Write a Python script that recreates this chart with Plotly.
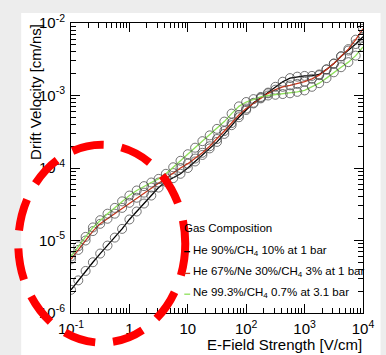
import numpy as np
import plotly.graph_objects as go

# E-field sampling: 8 points per decade from 0.1 to 10^4 V/cm
log_field = [-1 + k * 0.125 for k in range(41)]
e_field = [10 ** v for v in log_field]

# log10 of drift velocity [cm/ns] for each gas mixture
log_v_he_ch4 = [
    -5.68, -5.55, -5.42, -5.30, -5.18, -5.07, -4.96, -4.84, -4.71, -4.60,
    -4.49, -4.38, -4.27, -4.19, -4.14, -4.08, -4.00, -3.91, -3.82, -3.73,
    -3.64, -3.53, -3.41, -3.30, -3.20, -3.10, -3.03, -2.96, -2.88, -2.81,
    -2.76, -2.74, -2.73, -2.73, -2.71, -2.64, -2.56, -2.46, -2.38, -2.29,
    -2.19,
]
log_v_he_ne_ch4 = [
    -5.26, -5.13, -5.00, -4.87, -4.77, -4.70, -4.63, -4.55, -4.48, -4.41,
    -4.34, -4.27, -4.20, -4.14, -4.07, -4.00, -3.94, -3.87, -3.79, -3.70,
    -3.60, -3.49, -3.38, -3.27, -3.18, -3.11, -3.04, -2.97, -2.92, -2.88,
    -2.86, -2.84, -2.81, -2.77, -2.72, -2.64, -2.56, -2.46, -2.36, -2.23,
    -2.08,
]
log_v_ne_ch4 = [
    -5.22, -5.08, -4.95, -4.82, -4.72, -4.63, -4.55, -4.46, -4.38, -4.31,
    -4.25, -4.20, -4.15, -4.08, -3.99, -3.90, -3.81, -3.72, -3.63, -3.55,
    -3.46, -3.36, -3.25, -3.15, -3.09, -3.05, -3.02, -3.00, -2.99, -2.98,
    -2.97, -2.95, -2.93, -2.88, -2.83, -2.76, -2.68, -2.61, -2.54, -2.45,
    -2.33,
]

series_names = [
    "He 90%/CH<sub>4</sub> 10% at 1 bar",
    "He 67%/Ne 30%/CH<sub>4</sub> 3% at 1 bar",
    "Ne 99.3%/CH<sub>4</sub> 0.7% at 3.1 bar",
]
series_logs = [log_v_he_ch4, log_v_he_ne_ch4, log_v_ne_ch4]
series_colors = ["#000000", "#c8371c", "#8ee05a"]

x_tickvals = [0.1, 1, 10, 100, 1000, 10000]
x_ticktext = ["10<sup>-1</sup>", "1", "10", "10<sup>2</sup>", "10<sup>3</sup>", "10<sup>4</sup>"]
y_tickvals = [1e-6, 1e-5, 1e-4, 1e-3, 1e-2]
y_ticktext = ["10<sup>-6</sup>", "10<sup>-5</sup>", "10<sup>-4</sup>", "10<sup>-3</sup>", "10<sup>-2</sup>"]

W, H = 386, 355
ML, MR, MT, MB = 71, 16, 20, 42
PW, PH = W - ML - MR, H - MT - MB


def px_x(px):
    return (px - ML) / PW


def px_y(py):
    return (H - MB - py) / PH


FONT = "Liberation Sans, Arial, sans-serif"

fig = go.Figure()
for name, logs, color in zip(series_names, series_logs, series_colors):
    fig.add_trace(go.Scatter(
        x=e_field,
        y=[10 ** v for v in logs],
        mode="lines+markers",
        name=name,
        line=dict(color=color, width=1.3),
        marker=dict(symbol="circle-open", size=9,
                    color="rgba(70,70,70,0.75)", line=dict(width=1)),
        showlegend=False,
    ))

shapes = [
    # white canvas over the gray page
    dict(type="rect", xref="paper", yref="paper", layer="below",
         x0=px_x(20), x1=px_x(W + 2), y0=px_y(H + 2), y1=px_y(10),
         fillcolor="white", line=dict(width=0)),
    # dashed red highlight ellipse
    dict(type="circle", xref="paper", yref="paper", layer="above",
         x0=px_x(17), x1=px_x(188), y0=px_y(343), y1=px_y(143),
         line=dict(color="#ff0000", width=8, dash="32px,18px")),
]

annotations = [
    dict(text="E-Field Strength [V/cm]", xref="paper", yref="paper",
         x=px_x(371), y=px_y(345), xanchor="right", yanchor="middle",
         showarrow=False, font=dict(family=FONT, size=15, color="black")),
    dict(text="Drift Velocity [cm/ns]", xref="paper", yref="paper",
         x=px_x(34), y=px_y(19), xanchor="center", yanchor="top",
         textangle=-90, showarrow=False,
         font=dict(family=FONT, size=15, color="black")),
    dict(text="Gas Composition", xref="paper", yref="paper",
         x=px_x(185), y=px_y(227), xanchor="left", yanchor="middle",
         showarrow=False, font=dict(family=FONT, size=11.5, color="black")),
]

legend_rows = [250, 272, 293]
for name, color, row in zip(series_names, series_colors, legend_rows):
    annotations.append(dict(
        text=name, xref="paper", yref="paper",
        x=px_x(194), y=px_y(row), xanchor="left", yanchor="middle",
        showarrow=False, font=dict(family=FONT, size=11.5, color="black")))
    shapes.append(dict(
        type="line", xref="paper", yref="paper", layer="above",
        x0=px_x(187), x1=px_x(193), y0=px_y(row + 1), y1=px_y(row + 1),
        line=dict(color=color, width=1.3)))

axis_common = dict(
    type="log", showgrid=False, zeroline=False,
    showline=True, linecolor="black", linewidth=1, mirror="ticks",
    ticks="inside", ticklen=9, tickcolor="black", tickwidth=1,
    tickfont=dict(family=FONT, size=15, color="black"),
    minor=dict(ticks="inside", ticklen=5, tickcolor="black",
               tickwidth=1, dtick="D1", showgrid=False),
)

fig.update_layout(
    width=W, height=H,
    margin=dict(l=ML, r=MR, t=MT, b=MB, pad=0),
    paper_bgcolor="#ededed",
    plot_bgcolor="white",
    xaxis=dict(range=[-1, 4], tickvals=x_tickvals, ticktext=x_ticktext,
               ticklabelstandoff=2, **axis_common),
    yaxis=dict(range=[-6, -2], tickvals=y_tickvals, ticktext=y_ticktext,
               ticklabelstandoff=2, **axis_common),
    shapes=shapes,
    annotations=annotations,
    showlegend=False,
)

fig.write_html("out.html")
